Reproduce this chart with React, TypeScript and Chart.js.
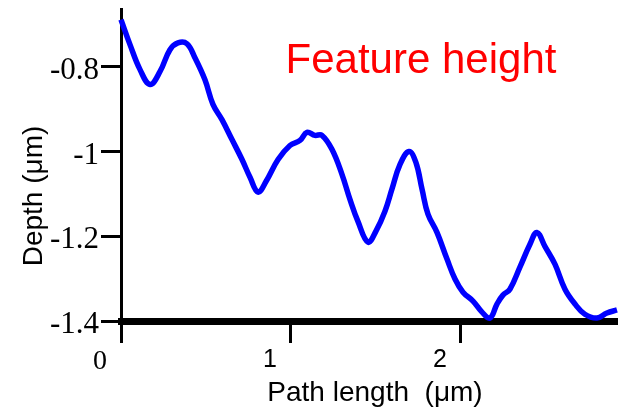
import React, { useEffect, useRef } from "react";
import { Chart, registerables } from "chart.js";

Chart.register(...registerables);

// ---- Data ----
const pathLength = [
  0, 0.053, 0.112, 0.171, 0.229, 0.288, 0.335, 0.388, 0.435, 0.494, 0.541, 0.594, 0.653, 0.712,
  0.759, 0.806, 0.853, 0.924, 0.994, 1.053, 1.094, 1.141, 1.182, 1.241, 1.3, 1.347, 1.394, 1.453,
  1.5, 1.553, 1.594, 1.641, 1.694, 1.735, 1.771, 1.806, 1.859, 1.918, 1.965, 2.012, 2.071, 2.124,
  2.171, 2.212, 2.247, 2.288, 2.347, 2.406, 2.447, 2.494, 2.553, 2.612, 2.671, 2.729, 2.8, 2.859,
  2.918,
];
const depth = [
  -0.689, -0.748, -0.807, -0.842, -0.812, -0.76, -0.744, -0.746, -0.779, -0.831, -0.889, -0.925,
  -0.972, -1.019, -1.061, -1.096, -1.071, -1.019, -0.986, -0.974, -0.955, -0.962, -0.962, -0.995,
  -1.054, -1.113, -1.165, -1.214, -1.188, -1.141, -1.089, -1.031, -1.0, -1.026, -1.089, -1.148,
  -1.191, -1.254, -1.301, -1.332, -1.353, -1.379, -1.393, -1.36, -1.339, -1.325, -1.273, -1.219,
  -1.191, -1.224, -1.266, -1.325, -1.36, -1.384, -1.393, -1.381, -1.374,
];
const xTickValues = [0, 1, 2];
const yTickValues = [-1.4, -1.2, -1.0, -0.8];
const xMin = 0;
const xMax = 2.924;
const yMin = -1.4;
const yMax = -0.664;
const annotationText = "Feature height";
const annotationX = 1.765;
const annotationY = -0.816;
const xTitle = "Path length  (\u03bcm)";
const yTitle = "Depth (\u03bcm)";

const SANS = "'Liberation Sans', Arial, sans-serif";
const SERIF = "'Liberation Serif', 'Times New Roman', serif";

export default function App() {
  const ref = useRef<HTMLCanvasElement>(null);

  useEffect(() => {
    if (!ref.current) return;

    const textPlugin = {
      id: "extraTexts",
      afterDraw(chart: any) {
        const { ctx, scales } = chart;
        ctx.save();
        ctx.fillStyle = "#ff0000";
        ctx.font = `42px ${SANS}`;
        ctx.textAlign = "center";
        ctx.textBaseline = "alphabetic";
        ctx.fillText(
          annotationText,
          scales.x.getPixelForValue(annotationX),
          scales.y.getPixelForValue(annotationY)
        );
        ctx.fillStyle = "#000000";
        ctx.font = `28px ${SANS}`;
        ctx.fillText(xTitle, 375, 401);
        ctx.translate(42, 196);
        ctx.rotate(-Math.PI / 2);
        ctx.fillText(yTitle, 0, 0);
        ctx.restore();
      },
    };

    const chart = new Chart(ref.current, {
      type: "line",
      data: {
        datasets: [
          {
            data: pathLength.map((x, i) => ({ x, y: depth[i] })),
            borderColor: "#0000ff",
            borderWidth: 5.5,
            pointRadius: 0,
            tension: 0.4,
            fill: false,
            clip: false as any,
          },
        ],
      },
      options: {
        responsive: false,
        animation: false,
        layout: { padding: { top: 9, left: 0, right: 0, bottom: 0 } },
        plugins: {
          legend: { display: false },
          tooltip: { enabled: false },
        },
        scales: {
          x: {
            type: "linear",
            position: "bottom",
            min: xMin,
            max: xMax,
            z: 1,
            afterFit: (s: any) => {
              s.height = 87;
              s.paddingLeft = 0;
              s.paddingRight = 0;
            },
            afterBuildTicks: (s: any) => {
              s.ticks = xTickValues.map((v) => ({ value: v }));
            },
            grid: {
              display: true,
              drawOnChartArea: false,
              drawTicks: true,
              tickLength: 22,
              tickWidth: 3,
              tickColor: "#000000",
              color: "#000000",
            },
            border: { display: true, width: 7, color: "#000000" },
            ticks: {
              autoSkip: false,
              maxRotation: 0,
              labelOffset: -21,
              padding: 2,
              color: "#000000",
              font: (c: any) =>
                c.tick && c.tick.value === 0
                  ? { family: SERIF, size: 28 }
                  : { family: SANS, size: 25 },
              callback: (v: any) => String(v),
            },
          },
          y: {
            type: "linear",
            min: yMin,
            max: yMax,
            z: 1,
            afterFit: (s: any) => {
              s.width = 121;
              s.paddingTop = 0;
              s.paddingBottom = 0;
            },
            afterBuildTicks: (s: any) => {
              s.ticks = yTickValues.map((v) => ({ value: v }));
            },
            grid: {
              display: true,
              drawOnChartArea: false,
              drawTicks: true,
              tickLength: 20,
              tickWidth: 3,
              tickColor: "#000000",
              color: "#000000",
            },
            border: { display: true, width: 3, color: "#000000" },
            ticks: {
              padding: 2,
              labelOffset: 4,
              color: "#000000",
              font: { family: SERIF, size: 31 },
              callback: (v: any) => String(Math.round(Number(v) * 10) / 10),
            },
          },
        },
      },
      plugins: [textPlugin],
    });

    return () => chart.destroy();
  }, []);

  return (
    <div style={{ position: "absolute", left: 0, top: 0, width: 618, height: 408 }}>
      <canvas ref={ref} width={618} height={408} />
    </div>
  );
}
